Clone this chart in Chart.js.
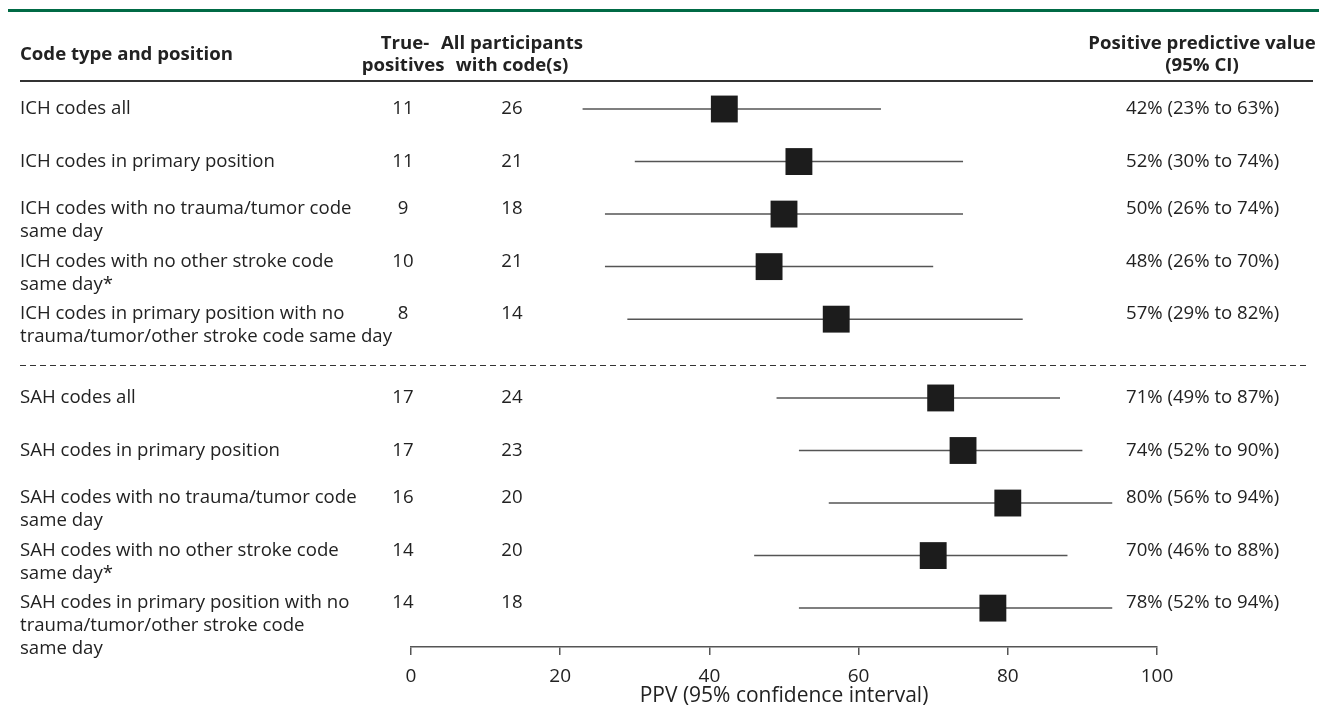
<!DOCTYPE html>
<html>
<head>
<meta charset="utf-8">
<title>PPV forest plot</title>
<script src="https://cdn.jsdelivr.net/npm/chart.js@4.4.1/dist/chart.umd.min.js"></script>
<style>
  html, body { margin: 0; padding: 0; background: #fff; }
  #forest { display: block; }
</style>
</head>
<body>
<canvas id="forest" width="1319" height="707"></canvas>
<script>
// Datos de la tabla
const rowLabels = [
    ['ICH codes all'],
    ['ICH codes in primary position'],
    ['ICH codes with no trauma/tumor code', 'same day'],
    ['ICH codes with no other stroke code', 'same day*'],
    ['ICH codes in primary position with no', 'trauma/tumor/other stroke code same day'],
    ['SAH codes all'],
    ['SAH codes in primary position'],
    ['SAH codes with no trauma/tumor code', 'same day'],
    ['SAH codes with no other stroke code', 'same day*'],
    ['SAH codes in primary position with no', 'trauma/tumor/other stroke code', 'same day']
];
const groups = ['ICH', 'ICH', 'ICH', 'ICH', 'ICH', 'SAH', 'SAH', 'SAH', 'SAH', 'SAH'];
const truePositives = [11, 11, 9, 10, 8, 17, 17, 16, 14, 14];
const participants = [26, 21, 18, 21, 14, 24, 23, 20, 20, 18];
const ppv = [42, 52, 50, 48, 57, 71, 74, 80, 70, 78];
const ciLow = [23, 30, 26, 26, 29, 49, 52, 56, 46, 52];
const ciHigh = [63, 74, 74, 70, 82, 87, 90, 94, 88, 94];
const xTicks = [0, 20, 40, 60, 80, 100];

document.addEventListener('DOMContentLoaded', function () {
    const FONT = '"Open Sans", "Noto Sans", sans-serif';
    const TEXT = '#222';

    // posicion de cada fila: indice + medio hueco entre grupos
    const groupNames = [...new Set(groups)];
    const rowPos = groups.map((g, i) => i + groupNames.indexOf(g) * 0.5);

    // lineas de intervalo de confianza, una por fila
    const ciDatasets = ciLow.map((lo, i) => ({
        type: 'line',
        data: [{ x: lo, y: rowPos[i] }, { x: ciHigh[i], y: rowPos[i] }],
        borderColor: '#555',
        borderWidth: 1.5,
        pointRadius: 0,
        order: 2
    }));

    // Texto de la tabla, encabezados y separadores
    const tablePlugin = {
        id: 'tableText',
        afterDraw(chart) {
            const ctx = chart.ctx;
            const yScale = chart.scales.y;
            ctx.save();

            // linea verde superior
            ctx.fillStyle = '#006a45';
            ctx.fillRect(8, 9, 1311, 3);

            // encabezados
            ctx.fillStyle = TEXT;
            ctx.textBaseline = 'middle';
            ctx.font = 'bold 18.6px ' + FONT;
            ctx.textAlign = 'left';
            ctx.fillText('Code type and position', 20, 55);
            ctx.textAlign = 'center';
            ctx.fillText('True-', 405, 44);
            ctx.fillText('positives', 403, 66);
            ctx.fillText('All participants', 512, 44);
            ctx.fillText('with code(s)', 512, 66);
            ctx.fillText('Positive predictive value', 1202, 44);
            ctx.fillText('(95% CI)', 1202, 66);

            // linea bajo encabezados
            ctx.strokeStyle = '#333';
            ctx.lineWidth = 2;
            ctx.beginPath();
            ctx.moveTo(20, 81);
            ctx.lineTo(1313, 81);
            ctx.stroke();

            // filas
            ctx.font = '18.6px ' + FONT;
            rowLabels.forEach((lines, i) => {
                const py = yScale.getPixelForValue(rowPos[i]);
                const top = lines.length > 1 ? py - 5 : py;
                ctx.textAlign = 'left';
                lines.forEach((line, k) => ctx.fillText(line, 20, top + k * 23));
                ctx.textAlign = 'center';
                ctx.fillText(String(truePositives[i]), 403, top);
                ctx.fillText(String(participants[i]), 512, top);
                ctx.textAlign = 'left';
                ctx.fillText(`${ppv[i]}% (${ciLow[i]}% to ${ciHigh[i]}%)`, 1126, top);
            });

            // separador punteado entre grupos
            const lastIch = groups.lastIndexOf('ICH');
            const sepY = Math.round(yScale.getPixelForValue((rowPos[lastIch] + rowPos[lastIch + 1]) / 2)) + 6.5;
            ctx.strokeStyle = '#333';
            ctx.lineWidth = 1;
            ctx.setLineDash([6, 4]);
            ctx.beginPath();
            ctx.moveTo(20, sepY);
            ctx.lineTo(1307, sepY);
            ctx.stroke();

            ctx.restore();
        }
    };

    const ctx = document.getElementById('forest').getContext('2d');
    new Chart(ctx, {
        data: {
            datasets: [{
                type: 'scatter',
                data: ppv.map((v, i) => ({ x: v, y: rowPos[i] })),
                pointStyle: 'rect',
                pointRadius: 19,
                pointHoverRadius: 19,
                backgroundColor: '#1c1c1c',
                borderWidth: 0,
                order: 1
            }, ...ciDatasets]
        },
        options: {
            responsive: false,
            animation: false,
            events: [],
            layout: {
                padding: { left: 411, right: 162, top: 82, bottom: 0.5 }
            },
            plugins: {
                legend: { display: false },
                tooltip: { enabled: false }
            },
            scales: {
                x: {
                    type: 'linear',
                    min: 0,
                    max: 100,
                    afterBuildTicks: function (axis) {
                        axis.ticks = xTicks.map(v => ({ value: v }));
                    },
                    grid: {
                        drawOnChartArea: false,
                        drawTicks: true,
                        tickLength: 8,
                        color: '#555',
                        lineWidth: 1.5
                    },
                    border: { display: true, color: '#555', width: 1.5 },
                    ticks: {
                        color: TEXT,
                        padding: 12,
                        maxRotation: 0,
                        font: { family: FONT, size: 19, lineHeight: 1 }
                    },
                    title: {
                        display: true,
                        text: 'PPV (95% confidence interval)',
                        color: TEXT,
                        padding: { top: -12.5, bottom: 0 },
                        font: { family: FONT, size: 21, lineHeight: 1 }
                    }
                },
                y: {
                    type: 'linear',
                    display: false,
                    reverse: true,
                    min: -0.514,
                    max: 10.24
                }
            }
        },
        plugins: [tablePlugin]
    });
});
</script>
</body>
</html>
